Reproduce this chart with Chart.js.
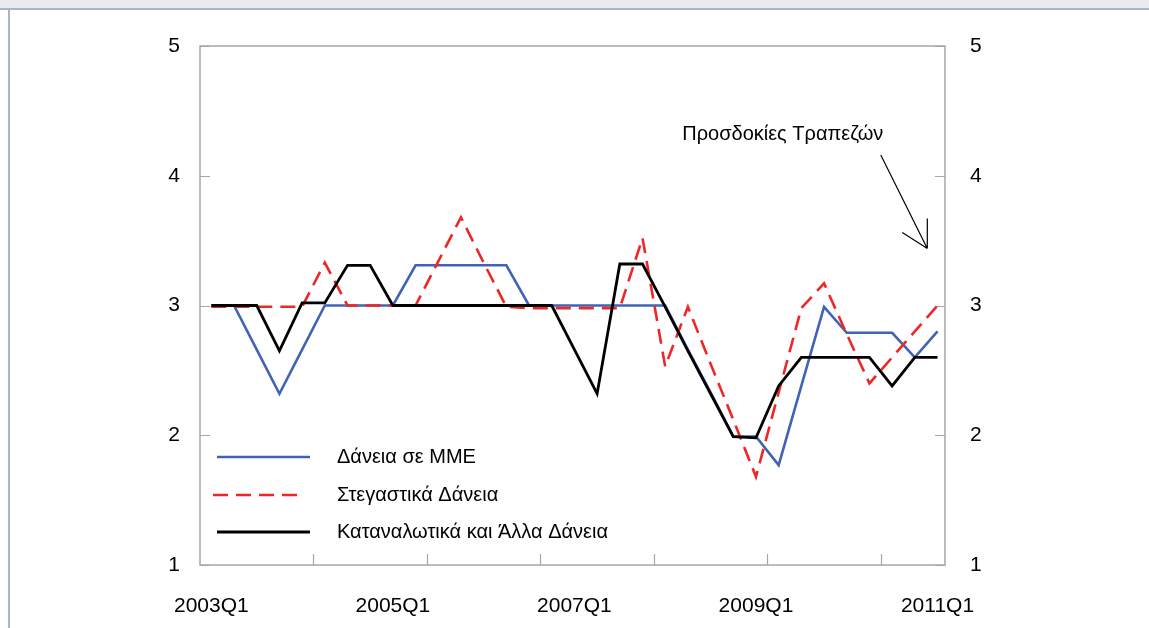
<!DOCTYPE html>
<html>
<head>
<meta charset="utf-8">
<script src="https://cdn.jsdelivr.net/npm/chart.js@4.4.1/dist/chart.umd.min.js"></script>
<style>
  html, body { margin: 0; padding: 0; background: #fff; }
  #wrap { position: relative; width: 1149px; height: 628px; overflow: hidden; }
  #band { position: absolute; left: 0; top: 0; width: 1149px; height: 8px; background: #e9ebef; border-bottom: 2px solid #aab6c6; }
  #edge { position: absolute; left: 8px; top: 10px; width: 2px; height: 618px; background: #aab6c6; }
  canvas { position: absolute; left: 0; top: 0; }
</style>
</head>
<body>
<div id="wrap">
  <div id="band"></div>
  <div id="edge"></div>
  <canvas id="chart" width="1149" height="628"></canvas>
</div>
<script>
// Quarterly categories
const quarters = [
  '2003Q1','2003Q2','2003Q3','2003Q4',
  '2004Q1','2004Q2','2004Q3','2004Q4',
  '2005Q1','2005Q2','2005Q3','2005Q4',
  '2006Q1','2006Q2','2006Q3','2006Q4',
  '2007Q1','2007Q2','2007Q3','2007Q4',
  '2008Q1','2008Q2','2008Q3','2008Q4',
  '2009Q1','2009Q2','2009Q3','2009Q4',
  '2010Q1','2010Q2','2010Q3','2010Q4',
  '2011Q1'
];
// Quarters that carry a label on the horizontal axis
const labeledQuarters = ['2003Q1', '2005Q1', '2007Q1', '2009Q1', '2011Q1'];
// Value axis ticks
const valueTicks = [1, 2, 3, 4, 5];

// Series
const smeLoans = [
  3.00, 3.00, 2.66, 2.32, 2.66, 3.00, 3.00, 3.00,
  3.00, 3.31, 3.31, 3.31, 3.31, 3.31, 3.00, 3.00,
  3.00, 3.00, 3.00, 3.00, 3.00, 2.66, 2.33, 1.99,
  1.99, 1.77, 2.38, 2.99, 2.79, 2.79, 2.79, 2.60,
  2.80
];
const housingLoans = [
  2.99, 2.99, 2.99, 2.99, 2.99, 3.33, 3.00, 3.00,
  3.00, 3.00, 3.34, 3.68, 3.33, 2.99, 2.98, 2.98,
  2.98, 2.98, 2.98, 3.52, 2.53, 2.99, 2.55, 2.12,
  1.68, 2.33, 2.98, 3.17, 2.78, 2.40, 2.60, 2.80,
  3.00
];
const consumerLoans = [
  3.00, 3.00, 3.00, 2.65, 3.02, 3.02, 3.31, 3.31,
  3.00, 3.00, 3.00, 3.00, 3.00, 3.00, 3.00, 3.00,
  2.66, 2.32, 3.32, 3.32, 2.99, 2.65, 2.32, 1.99,
  1.98, 2.38, 2.60, 2.60, 2.60, 2.60, 2.38, 2.60,
  2.60
];

const seriesNames = ['Δάνεια σε ΜΜΕ', 'Στεγαστικά Δάνεια', 'Καταναλωτικά και Άλλα Δάνεια'];
const noteText = 'Προσδοκίες Τραπεζών';

const FONT = "'Liberation Sans', Arial, sans-serif";
const TICK_EVERY = 5;           // minor tick marks on the category axis
const toPoints = arr => arr.map((v, i) => ({ x: i, y: v }));

// Plot frame and inward tick marks
const framePlugin = {
  id: 'frame',
  beforeDatasetsDraw(chart) {
    const { ctx, chartArea: a, scales } = chart;
    ctx.save();
    ctx.strokeStyle = '#a6a6a6';
    ctx.lineWidth = 1.5;
    ctx.strokeRect(a.left, a.top, a.right - a.left, a.bottom - a.top);
    ctx.lineWidth = 1.2;
    ctx.beginPath();
    valueTicks.forEach(v => {
      const y = Math.round(scales.y.getPixelForValue(v)) + 0.5;
      ctx.moveTo(a.left, y); ctx.lineTo(a.left + 10, y);
      ctx.moveTo(a.right, y); ctx.lineTo(a.right - 10, y);
    });
    for (let k = TICK_EVERY; k < quarters.length; k += TICK_EVERY) {
      const x = Math.round(scales.x.getPixelForValue(k - 0.5)) + 0.5;
      ctx.moveTo(x, a.bottom); ctx.lineTo(x, a.bottom - 11);
    }
    ctx.stroke();
    ctx.restore();
  }
};

// Legend inside the plot area and the expectations note
const overlayPlugin = {
  id: 'overlay',
  afterDraw(chart) {
    const { ctx, scales } = chart;
    ctx.save();
    ctx.font = '20px ' + FONT;
    ctx.fillStyle = '#000';
    ctx.textBaseline = 'middle';
    const rows = [457, 495, 532];
    chart.data.datasets.forEach((ds, i) => {
      const y = rows[i];
      ctx.strokeStyle = ds.borderColor;
      ctx.lineWidth = ds.borderWidth;
      ctx.setLineDash(ds.borderDash || []);
      ctx.beginPath();
      ctx.moveTo(ds.borderDash ? 213 : 217, y);
      ctx.lineTo(ds.borderDash ? 305 : 310, y);
      ctx.stroke();
      ctx.setLineDash([]);
      ctx.fillText(ds.label, 337, y);
    });

    // Note with arrow
    const tx = scales.x.getPixelForValue(20.75);
    const ty = scales.y.getPixelForValue(4.32);
    ctx.fillText(noteText, tx, ty);
    const x0 = scales.x.getPixelForValue(29.5), y0 = scales.y.getPixelForValue(4.16);
    const x1 = scales.x.getPixelForValue(31.55), y1 = scales.y.getPixelForValue(3.44);
    ctx.strokeStyle = '#000';
    ctx.lineWidth = 1.2;
    ctx.beginPath();
    ctx.moveTo(x0, y0); ctx.lineTo(x1, y1);
    ctx.moveTo(x1, y1); ctx.lineTo(x1, y1 - 30);
    ctx.moveTo(x1, y1); ctx.lineTo(x1 - 25, y1 - 16);
    ctx.stroke();
    ctx.restore();
  }
};

new Chart(document.getElementById('chart'), {
  type: 'line',
  data: {
    datasets: [
      { label: seriesNames[0], data: toPoints(smeLoans), borderColor: '#4064b4', borderWidth: 2.6, order: 2 },
      { label: seriesNames[1], data: toPoints(housingLoans), borderColor: '#ee2626', borderWidth: 2.6, borderDash: [15, 8], order: 1 },
      { label: seriesNames[2], data: toPoints(consumerLoans), borderColor: '#000000', borderWidth: 2.8, order: 0 }
    ]
  },
  options: {
    responsive: false,
    animation: false,
    events: [],
    elements: { point: { radius: 0 }, line: { tension: 0, borderJoinStyle: 'miter', borderCapStyle: 'butt' } },
    layout: { padding: { top: 46, left: 0, right: 0, bottom: 0 } },
    plugins: { legend: { display: false }, tooltip: { enabled: false } },
    scales: {
      x: {
        type: 'linear',
        min: -0.5,
        max: 32.33,
        afterFit(s) { s.height = 63; },
        afterBuildTicks(s) { s.ticks = labeledQuarters.map(q => ({ value: quarters.indexOf(q) })); },
        grid: { display: false, drawTicks: false },
        border: { display: false },
        ticks: {
          autoSkip: false, maxRotation: 0, padding: 29,
          color: '#000', font: { family: FONT, size: 21 },
          callback: v => quarters[v]
        }
      },
      y: {
        position: 'left',
        min: 1, max: 5,
        afterFit(s) { s.width = 200; },
        afterBuildTicks(s) { s.ticks = valueTicks.map(v => ({ value: v })); },
        grid: { display: false, drawTicks: false },
        border: { display: false },
        ticks: { padding: 20, color: '#000', font: { family: FONT, size: 21 } }
      },
      y2: {
        position: 'right',
        min: 1, max: 5,
        afterFit(s) { s.width = 204; },
        afterBuildTicks(s) { s.ticks = valueTicks.map(v => ({ value: v })); },
        grid: { display: false, drawTicks: false },
        border: { display: false },
        ticks: { padding: 25, color: '#000', font: { family: FONT, size: 21 } }
      }
    }
  },
  plugins: [framePlugin, overlayPlugin]
});
</script>
</body>
</html>
